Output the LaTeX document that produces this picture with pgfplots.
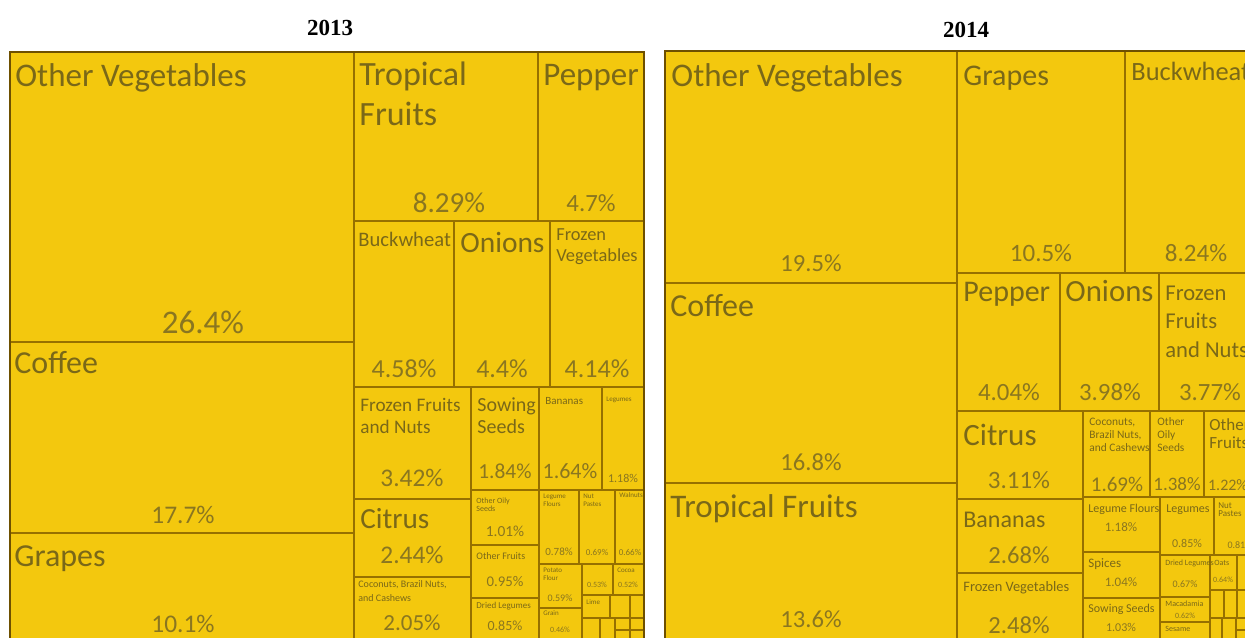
\documentclass[border=0pt]{standalone}
\usepackage{pgfplots}
\pgfplotsset{compat=1.18}
\usepackage{fontspec}
\setmainfont{Carlito}
\newfontfamily\titlefont{Liberation Serif}
\definecolor{cellc}{RGB}{243,200,14}
\definecolor{bordc}{RGB}{150,112,0}
\definecolor{outc}{RGB}{110,80,0}
\definecolor{txtc}{RGB}{122,104,24}
\definecolor{pctc}{RGB}{138,118,32}
\pgfplotsset{cellst/.style={draw=bordc,fill=cellc,line width=0.6pt,line join=miter,mark=none}}
\newcommand{\cell}[4]{\addplot[cellst] coordinates {(#1,#2) (#3,#2) (#3,#4) (#1,#4) (#1,#2)};}
\newcommand{\nm}[4]{\node[anchor=base west,inner sep=0pt,text=txtc,font=\fontsize{#3}{#3}\selectfont] at (axis cs:#1,#2) {#4};}
\newcommand{\pc}[4]{\node[anchor=center,inner sep=0pt,text=pctc,font=\fontsize{#3}{#3}\selectfont] at (axis cs:#1,#2) {#4};}
\begin{document}
\begin{tikzpicture}
\begin{axis}[name=ax, at={(0,0)}, anchor=south west, scale only axis,
  width=622.5pt, height=318.5pt, xmin=0, xmax=1245, ymin=0, ymax=637,
  y dir=reverse, axis line style={draw=none}, ticks=none, clip=true]
% ---------------- 2013 ----------------
\cell{10}{52}{354}{342}
\cell{10}{342}{354}{533}
\cell{10}{533}{354}{645}
\cell{354}{52}{538}{221}
\cell{538}{52}{644}{221}
\cell{354}{221}{454}{387}
\cell{454}{221}{550}{387}
\cell{550}{221}{644}{387}
\cell{354}{387}{471}{499}
\cell{354}{499}{471}{577}
\cell{354}{577}{471}{645}
\cell{471}{387}{539}{490}
\cell{539}{387}{602}{490}
\cell{602}{387}{644}{490}
\cell{471}{490}{539}{545}
\cell{471}{545}{539}{598}
\cell{471}{598}{539}{645}
\cell{539}{490}{579}{564}
\cell{579}{490}{615}{564}
\cell{615}{490}{644}{564}
\cell{539}{564}{582}{608}
\cell{582}{564}{613}{595}
\cell{613}{564}{644}{595}
\cell{539}{608}{582}{645}
\cell{582}{595}{610}{618}
\cell{610}{595}{630}{618}
\cell{630}{595}{644}{618}
\cell{582}{618}{600}{645}
\cell{600}{618}{615}{645}
\cell{615}{618}{630}{630}
\cell{630}{618}{644}{630}
\cell{615}{630}{630}{645}
\cell{630}{630}{644}{645}
\addplot[draw=outc,line width=1pt,mark=none] coordinates {(10,645) (10,52) (644,52) (644,645)};
% ---------------- 2014 ----------------
\cell{665}{51}{957}{283}
\cell{665}{283}{957}{483}
\cell{665}{483}{957}{645}
\cell{957}{51}{1125}{273}
\cell{1125}{51}{1267}{273}
\cell{957}{273}{1060}{411}
\cell{1060}{273}{1159}{411}
\cell{1159}{273}{1267}{411}
\cell{957}{411}{1083}{499}
\cell{957}{499}{1083}{573}
\cell{957}{573}{1083}{645}
\cell{1083}{411}{1150}{497}
\cell{1150}{411}{1204}{497}
\cell{1204}{411}{1267}{497}
\cell{1083}{497}{1160}{552}
\cell{1160}{497}{1214}{555}
\cell{1214}{497}{1267}{555}
\cell{1083}{552}{1160}{598}
\cell{1083}{598}{1160}{645}
\cell{1160}{555}{1210}{597}
\cell{1210}{555}{1237}{590}
\cell{1237}{555}{1267}{590}
\cell{1160}{597}{1210}{622}
\cell{1160}{622}{1210}{645}
\cell{1210}{590}{1224}{618}
\cell{1224}{590}{1237}{618}
\cell{1237}{590}{1267}{618}
\cell{1210}{618}{1222}{645}
\cell{1222}{618}{1236}{645}
\cell{1236}{618}{1250}{630}
\cell{1250}{618}{1267}{630}
\cell{1236}{630}{1267}{645}
\addplot[draw=outc,line width=1pt,mark=none] coordinates {(665,645) (665,51) (1267,51)};
% ---------------- labels 2013 ----------------
\nm{15}{86}{16.5}{Other Vegetables}
\pc{203}{322}{16.5}{26.4\%}
\nm{14}{373}{16}{Coffee}
\pc{183}{515}{12.7}{17.7\%}
\nm{14}{566}{16}{Grapes}
\pc{183}{624}{12.7}{10.1\%}
\nm{359}{85}{17}{Tropical}
\nm{359}{125}{17}{Fruits}
\pc{449}{203}{14.5}{8.29\%}
\nm{543}{85}{16.5}{Pepper}
\pc{591}{203}{12.4}{4.7\%}
\nm{358}{246}{10.3}{Buckwheat}
\pc{404}{369}{13}{4.58\%}
\nm{460}{252}{14.7}{Onions}
\pc{502}{369}{13}{4.4\%}
\nm{556}{240}{9.2}{Frozen}
\nm{556}{261}{9.2}{Vegetables}
\pc{597}{369}{13}{4.14\%}
\nm{360}{411}{9.6}{Frozen Fruits}
\nm{360}{433}{9.6}{and Nuts}
\pc{412}{478}{12.7}{3.42\%}
\nm{477}{411}{10}{Sowing}
\nm{477}{433}{10}{Seeds}
\pc{505}{471}{10.7}{1.84\%}
\nm{545}{404}{5.5}{Bananas}
\pc{570}{471}{11}{1.64\%}
\nm{606}{401}{3.5}{Legumes}
\pc{623}{478}{6}{1.18\%}
\nm{360}{528}{14.6}{Citrus}
\pc{412}{555}{12.7}{2.44\%}
\nm{358}{587}{5}{Coconuts, Brazil Nuts,}
\nm{358}{601}{5}{and Cashews}
\pc{412}{623}{11.5}{2.05\%}
\nm{476}{503}{4}{Other Oily}
\nm{476}{511}{4}{Seeds}
\pc{505}{531}{7.7}{1.01\%}
\nm{476}{559}{5}{Other Fruits}
\pc{505}{582}{7.4}{0.95\%}
\nm{476}{608}{4.5}{Dried Legumes}
\pc{505}{626}{7}{0.85\%}
\nm{543}{498}{3.5}{Legume}
\nm{543}{506}{3.5}{Flours}
\pc{559}{552}{5.5}{0.78\%}
\nm{583}{498}{3.5}{Nut}
\nm{583}{506}{3.5}{Pastes}
\pc{597}{552}{4.5}{0.69\%}
\nm{619}{497}{3.5}{Walnuts}
\pc{630}{552}{4.5}{0.66\%}
\nm{543}{572}{3.5}{Potato}
\nm{543}{580}{3.5}{Flour}
\pc{560}{598}{5}{0.59\%}
\pc{597}{585}{4}{0.53\%}
\nm{617}{572}{3.5}{Cocoa}
\pc{628}{585}{4}{0.52\%}
\nm{543}{615}{3.5}{Grain}
\pc{560}{630}{4}{0.46\%}
\nm{586}{604}{3.5}{Lime}
% ---------------- labels 2014 ----------------
\nm{671}{86}{16.5}{Other Vegetables}
\pc{811}{263}{12.3}{19.5\%}
\nm{670}{316}{16}{Coffee}
\pc{811}{462}{12.3}{16.8\%}
\nm{670}{517}{16.5}{Tropical Fruits}
\pc{811}{619}{12.3}{13.6\%}
\nm{963}{85}{15}{Grapes}
\pc{1041}{253}{12.5}{10.5\%}
\nm{1131}{80}{13.2}{Buckwheat}
\pc{1196}{253}{12.5}{8.24\%}
\nm{963}{301}{15}{Pepper}
\pc{1009}{392}{12.4}{4.04\%}
\nm{1065}{301}{15.4}{Onions}
\pc{1110}{392}{12.4}{3.98\%}
\nm{1165}{300}{11.3}{Frozen}
\nm{1165}{328}{11.3}{Fruits}
\nm{1165}{357}{11.3}{and Nuts}
\pc{1210}{392}{12.4}{3.77\%}
\nm{963}{445}{15.5}{Citrus}
\pc{1019}{480}{12.5}{3.11\%}
\nm{963}{527}{12}{Bananas}
\pc{1019}{555}{12.3}{2.68\%}
\nm{963}{591}{7.2}{Frozen Vegetables}
\pc{1019}{625}{12.3}{2.48\%}
\nm{1089}{425}{5.7}{Coconuts,}
\nm{1089}{438}{5.7}{Brazil Nuts,}
\nm{1089}{451}{5.7}{and Cashews}
\pc{1117}{484}{10.5}{1.69\%}
\nm{1157}{425}{5.7}{Other}
\nm{1157}{438}{5.7}{Oily}
\nm{1157}{451}{5.7}{Seeds}
\pc{1177}{484}{9.5}{1.38\%}
\nm{1209}{430}{8.5}{Other}
\nm{1209}{448}{8.5}{Fruits}
\pc{1228}{485}{8}{1.22\%}
\nm{1088}{512}{6}{Legume Flours}
\pc{1121}{527}{6.5}{1.18\%}
\nm{1166}{512}{6}{Legumes}
\pc{1187}{543}{6}{0.85\%}
\nm{1218}{508}{4.5}{Nut}
\nm{1218}{516}{4.5}{Pastes}
\pc{1240}{545}{5}{0.81\%}
\nm{1088}{567}{6.5}{Spices}
\pc{1121}{582}{6.5}{1.04\%}
\nm{1088}{612}{6}{Sowing Seeds}
\pc{1121}{627}{6}{1.03\%}
\nm{1165}{565}{4}{Dried Legumes}
\pc{1185}{584}{5}{0.67\%}
\nm{1214}{565}{4}{Oats}
\pc{1223}{580}{4}{0.64\%}
\nm{1165}{606}{4}{Macadamia}
\pc{1185}{616}{4}{0.62\%}
\nm{1165}{631}{4}{Sesame}
% ---------------- titles ----------------
\node[font=\titlefont\bfseries\fontsize{11.5}{11.5}\selectfont] at (axis cs:330,28) {2013};
\node[font=\titlefont\bfseries\fontsize{11.5}{11.5}\selectfont] at (axis cs:966,30) {2014};
\end{axis}
\pgfresetboundingbox
\path (ax.south west) rectangle (ax.north east);
\end{tikzpicture}
\end{document}
